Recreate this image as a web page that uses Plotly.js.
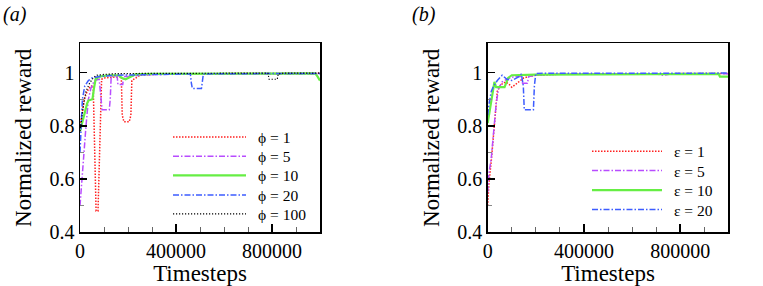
<!DOCTYPE html>
<html>
<head>
<meta charset="utf-8">
<script src="https://cdn.plot.ly/plotly-3.0.1.min.js"></script>
<style>html,body{margin:0;padding:0;background:#fff;}#chart{width:763px;height:286px;}</style>
</head>
<body>
<div id="chart"></div>
<script>
// ---------- Panel (a): varying phi ----------
const phi1_t = [0, 8000, 18000, 30000, 45000, 55000, 62000, 67000, 75000, 82000, 90000, 100000, 150000, 172000, 176000, 183000, 205000, 212000, 216000, 250000, 300000, 400000, 600000, 800000, 1000000];
const phi1_r = [0.80, 0.85, 0.90, 0.93, 0.95, 0.95, 0.60, 0.48, 0.48, 0.70, 0.975, 0.98, 0.985, 0.985, 0.84, 0.815, 0.815, 0.84, 0.97, 0.99, 0.993, 0.995, 0.996, 0.997, 0.998];

const phi5_t = [0, 5000, 15000, 25000, 35000, 45000, 60000, 80000, 87000, 92000, 122000, 126000, 130000, 155000, 158000, 178000, 182000, 200000, 250000, 300000, 500000, 700000, 1000000];
const phi5_r = [0.50, 0.55, 0.68, 0.80, 0.90, 0.94, 0.97, 0.975, 0.90, 0.86, 0.86, 0.90, 0.985, 0.985, 0.955, 0.955, 0.985, 0.985, 0.99, 0.993, 0.995, 0.994, 0.995];

const phi10_t = [0, 8000, 20000, 30000, 35000, 52000, 58000, 65000, 80000, 120000, 160000, 175000, 190000, 210000, 230000, 300000, 500000, 700000, 900000, 980000, 990000, 1000000];
const phi10_r = [0.78, 0.81, 0.85, 0.885, 0.895, 0.90, 0.94, 0.975, 0.985, 0.99, 0.99, 0.98, 0.975, 0.985, 0.993, 0.995, 0.996, 0.997, 0.997, 0.997, 0.985, 0.97];

const phi20_t = [0, 5000, 10000, 20000, 35000, 50000, 80000, 150000, 300000, 460000, 464000, 468000, 506000, 510000, 514000, 700000, 1000000];
const phi20_r = [0.70, 0.80, 0.90, 0.95, 0.97, 0.98, 0.985, 0.99, 0.993, 0.995, 0.96, 0.94, 0.94, 0.97, 0.995, 0.996, 0.997];

const phi100_t = [0, 5000, 15000, 25000, 40000, 55000, 70000, 100000, 150000, 300000, 600000, 783000, 788000, 822000, 826000, 850000, 1000000];
const phi100_r = [0.78, 0.82, 0.88, 0.93, 0.96, 0.98, 0.99, 0.993, 0.996, 0.997, 0.998, 0.998, 0.975, 0.975, 0.995, 0.998, 0.998];

// ---------- Panel (b): varying epsilon ----------
const eps1_t = [0, 5000, 15000, 25000, 32000, 40000, 55000, 75000, 90000, 100000, 115000, 130000, 150000, 170000, 200000, 300000, 600000, 1000000];
const eps1_r = [0.50, 0.58, 0.67, 0.77, 0.85, 0.93, 0.955, 0.965, 0.955, 0.945, 0.955, 0.965, 0.98, 0.985, 0.99, 0.994, 0.996, 0.997];

const eps5_t = [0, 5000, 15000, 25000, 35000, 45000, 60000, 80000, 110000, 140000, 145000, 165000, 170000, 200000, 300000, 700000, 730000, 760000, 1000000];
const eps5_r = [0.55, 0.62, 0.68, 0.77, 0.88, 0.94, 0.965, 0.975, 0.985, 0.985, 0.96, 0.96, 0.985, 0.99, 0.994, 0.995, 0.99, 0.995, 0.996];

const eps10_t = [0, 10000, 20000, 28000, 35000, 70000, 85000, 100000, 200000, 500000, 960000, 965000, 1000000];
const eps10_r = [0.81, 0.87, 0.93, 0.965, 0.945, 0.945, 0.98, 0.99, 0.992, 0.994, 0.995, 0.985, 0.985];

const eps20_t = [0, 5000, 15000, 25000, 40000, 60000, 80000, 100000, 130000, 140000, 148000, 152000, 190000, 194000, 200000, 300000, 1000000];
const eps20_r = [0.84, 0.88, 0.93, 0.95, 0.97, 0.99, 0.975, 0.97, 0.985, 0.995, 0.95, 0.86, 0.86, 0.95, 0.997, 0.997, 0.998];

const namesA = ["ϕ = 1", "ϕ = 5", "ϕ = 10", "ϕ = 20", "ϕ = 100"];
const namesB = ["ε = 1", "ε = 5", "ε = 10", "ε = 20"];
const xTickVals = [0, 400000, 800000];
const xTickText = ["0", "400000", "800000"];
const yTickVals = [0.4, 0.6, 0.8, 1];
const yTickText = ["0.4", "0.6", "0.8", "1"];

const styles = {
  red:     {color: "#ff2020", width: 1.5, dash: "1.5px,1.5px"},
  magenta: {color: "#b84cff", width: 1.5, dash: "6px,2px,1.5px,2px"},
  green:   {color: "#66ee44", width: 2.2, dash: "solid"},
  blue:    {color: "#3d5cff", width: 1.5, dash: "6px,2px,1.5px,2px"},
  black:   {color: "#000000", width: 1.2, dash: "1.2px,1.8px"}
};

const serif = '"Liberation Serif", serif';
const GAP = "\u00a0\u2009";

// one legend per entry so each row can be placed exactly
const legA = {x: 168, w: 73, rows: [137.3, 156.7, 175.7, 195.3, 214.3]};
const legB = {x: 587, w: 70, rows: [151.7, 171, 190.5, 210]};

function tr(t, r, name, st, xa, ya, leg) {
  return {x: t, y: r, name: GAP + name, type: "scatter", mode: "lines",
          line: {color: st.color, width: st.width, dash: st.dash},
          xaxis: xa, yaxis: ya, legend: leg, showlegend: true};
}

const data = [
  tr(phi1_t, phi1_r, namesA[0], styles.red, "x", "y", "legend"),
  tr(phi5_t, phi5_r, namesA[1], styles.magenta, "x", "y", "legend2"),
  tr(phi10_t, phi10_r, namesA[2], styles.green, "x", "y", "legend3"),
  tr(phi20_t, phi20_r, namesA[3], styles.blue, "x", "y", "legend4"),
  tr(phi100_t, phi100_r, namesA[4], styles.black, "x", "y", "legend5"),
  tr(eps1_t, eps1_r, namesB[0], styles.red, "x2", "y2", "legend6"),
  tr(eps5_t, eps5_r, namesB[1], styles.magenta, "x2", "y2", "legend7"),
  tr(eps10_t, eps10_r, namesB[2], styles.green, "x2", "y2", "legend8"),
  tr(eps20_t, eps20_r, namesB[3], styles.blue, "x2", "y2", "legend9")
];

function xaxis(domain, anchor) {
  return {domain: domain, anchor: anchor, range: [0, 1000000],
    tickmode: "array", tickvals: xTickVals, ticktext: xTickText,
    ticks: "inside", ticklen: 8, tickwidth: 1.5, tickcolor: "#000",
    minor: {dtick: 100000, ticks: "inside", ticklen: 5, tickwidth: 1, tickcolor: "#666", showgrid: false},
    showline: true, linecolor: "#000", linewidth: 1.5, mirror: true,
    showgrid: false, zeroline: false,
    tickfont: {family: serif, size: 20, color: "#000"},
    title: {text: "Timesteps", font: {family: serif, size: 23, color: "#000"}, standoff: 2},
    fixedrange: true};
}
function yaxis(domain, anchor) {
  return {domain: domain, anchor: anchor, range: [0.4, 1.11],
    tickmode: "array", tickvals: yTickVals, ticktext: yTickText,
    ticks: "inside", ticklen: 7, tickwidth: 1.5, tickcolor: "#000",
    minor: {tickvals: [0.5, 0.7, 0.9], ticks: "inside", ticklen: 4, tickwidth: 1, tickcolor: "#888", showgrid: false},
    showline: true, linecolor: "#000", linewidth: 1.5, mirror: true,
    showgrid: false, zeroline: false,
    tickfont: {family: serif, size: 20, color: "#000"},
    title: {text: "Normalized reward", font: {family: serif, size: 23, color: "#000"}, standoff: 11},
    fixedrange: true};
}

function legendAt(x, w, y) {
  return {x: x / 763, y: 1 - y / 286, xref: "paper", yref: "paper", xanchor: "left", yanchor: "middle",
    bgcolor: "rgba(0,0,0,0)", borderwidth: 0, itemwidth: w, tracegroupgap: 0,
    font: {family: serif, size: 15.5, color: "#000"}};
}

const yDom = [1 - 232.3 / 286, 1 - 43.3 / 286];
const layout = {
  width: 763, height: 286,
  margin: {l: 0, r: 0, t: 0, b: 0},
  paper_bgcolor: "#fff", plot_bgcolor: "#fff",
  showlegend: true,
  xaxis: xaxis([80 / 763, 320 / 763], "y"),
  yaxis: yaxis(yDom, "x"),
  xaxis2: xaxis([487.7 / 763, 728.3 / 763], "y2"),
  yaxis2: yaxis(yDom, "x2"),
  annotations: [
    {text: "(a)", x: 1 / 763, y: 1 - 14 / 286, xref: "paper", yref: "paper", xanchor: "left", yanchor: "middle",
     showarrow: false, font: {family: serif, size: 20, color: "#000", style: "italic"}},
    {text: "(b)", x: 410 / 763, y: 1 - 14 / 286, xref: "paper", yref: "paper", xanchor: "left", yanchor: "middle",
     showarrow: false, font: {family: serif, size: 20, color: "#000", style: "italic"}}
  ]
};
const legKeys = ["legend", "legend2", "legend3", "legend4", "legend5", "legend6", "legend7", "legend8", "legend9"];
legA.rows.forEach((y, i) => { layout[legKeys[i]] = legendAt(legA.x, legA.w, y); });
legB.rows.forEach((y, i) => { layout[legKeys[5 + i]] = legendAt(legB.x, legB.w, y); });

Plotly.newPlot("chart", data, layout, {displayModeBar: false, staticPlot: true});
</script>
</body>
</html>
